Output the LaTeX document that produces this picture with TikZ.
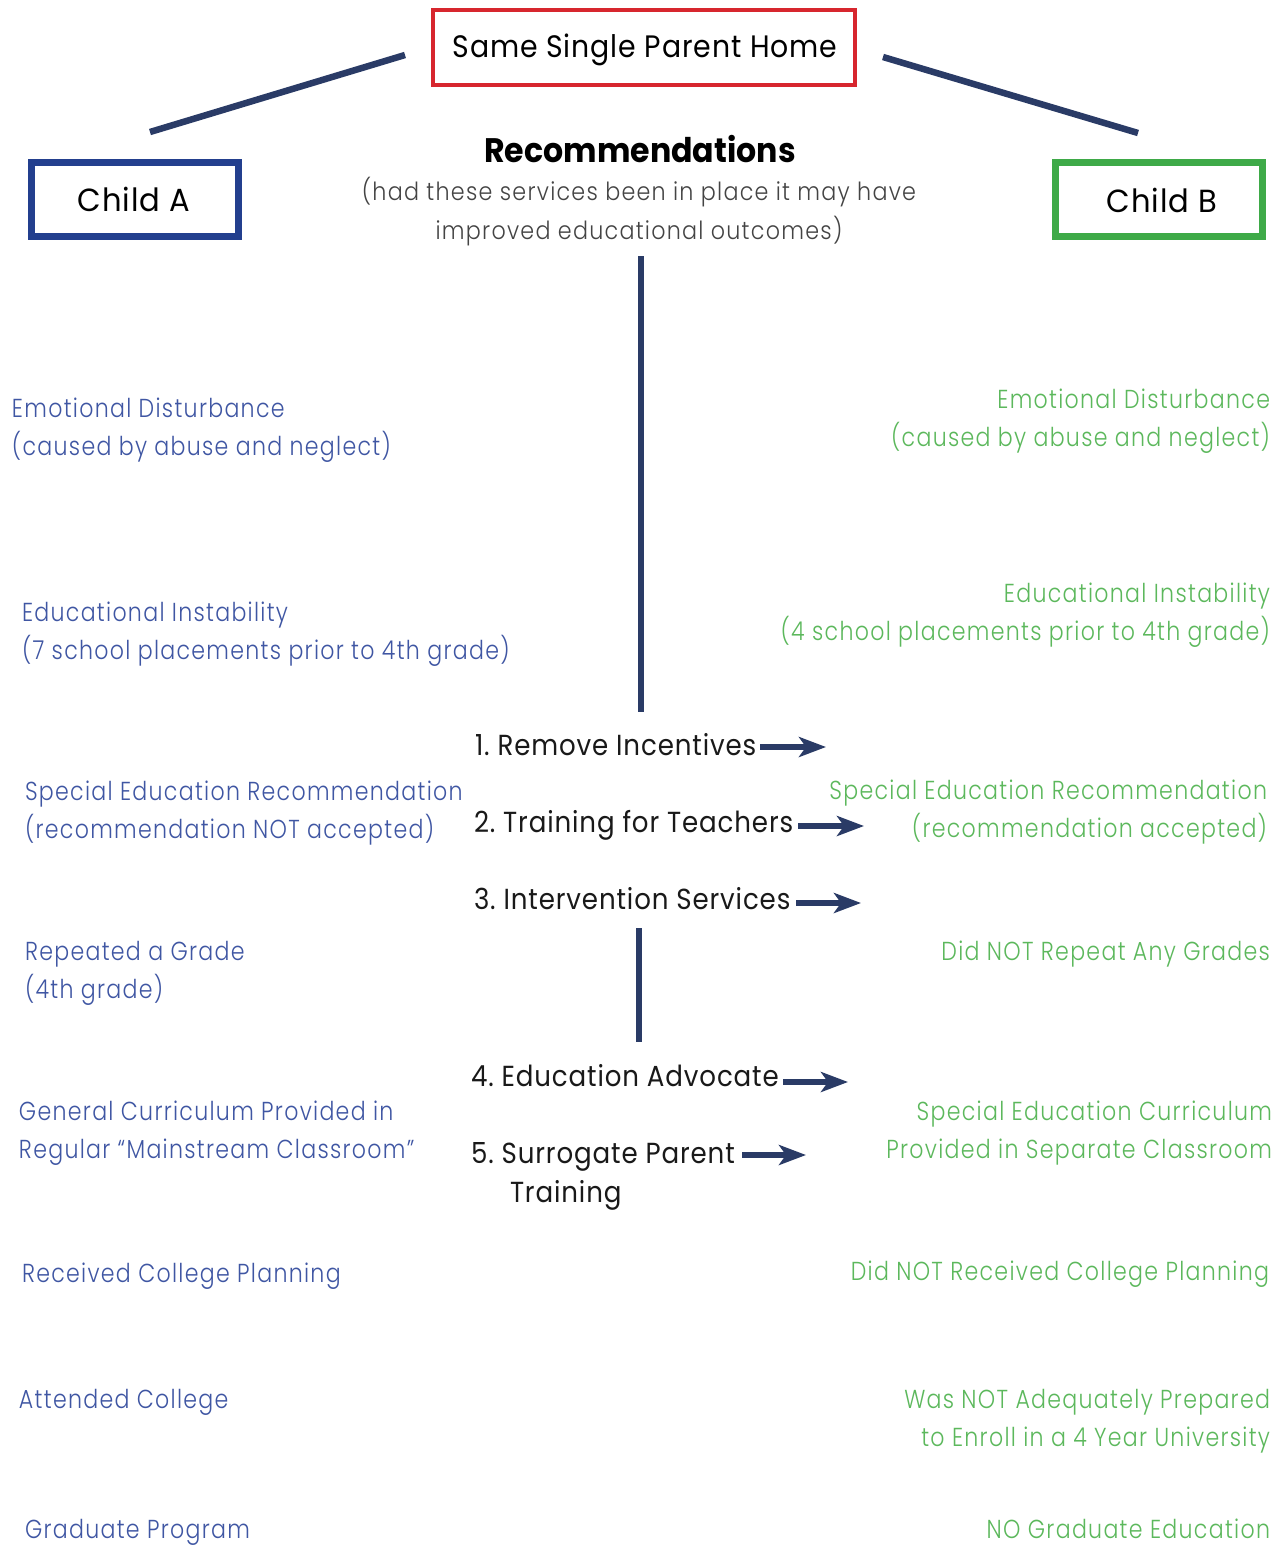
\documentclass[tikz,border=0pt]{standalone}
\usepackage{fontspec}
\setmainfont{Poppins}[UprightFont=* Light, BoldFont=* Bold, FakeStretch=0.85, LetterSpace=5]
\newfontfamily\subfont{Poppins}[UprightFont=* Light, FakeStretch=0.89, LetterSpace=5]
\newfontfamily\itemfont{Poppins}[UprightFont=* Regular, FakeStretch=0.9, LetterSpace=3]
\newfontfamily\homefont{Poppins}[UprightFont=* Regular, FakeStretch=0.914, LetterSpace=3]
\newfontfamily\childfont{Poppins}[UprightFont=* Regular, FakeStretch=0.956, LetterSpace=3]
\newfontfamily\headfont{Poppins}[UprightFont=* Bold, FakeStretch=0.93]
\usetikzlibrary{arrows.meta}
\definecolor{navy}{HTML}{2A3B66}
\definecolor{boxred}{HTML}{D7262E}
\definecolor{boxblue}{HTML}{233F8E}
\definecolor{boxgreen}{HTML}{3EAA48}
\definecolor{txtblue}{HTML}{3F56A3}
\definecolor{txtgreen}{HTML}{5CB85C}
\definecolor{txtgray}{HTML}{444444}
\tikzset{
  every node/.style={inner sep=0pt, outer sep=0pt},
  lefttxt/.style={anchor=base west, text=txtblue, align=left,
    font=\fontsize{26}{38}\selectfont},
  righttxt/.style={anchor=base east, text=txtgreen, align=right,
    font=\fontsize{26}{38}\selectfont},
  itemtxt/.style={anchor=base west, text=black!90, align=left,
    font=\itemfont\fontsize{29}{39}\selectfont},
  link/.style={draw=navy, line width=6.5pt},
  pointer/.style={draw=navy, line width=6pt,
    -{Stealth[length=27pt, width=20pt, inset=7pt]}},
}
\begin{document}
\begin{tikzpicture}[x=1pt, y=-1pt]
\useasboundingbox (0,0) rectangle (1283,1545);
\fill[white] (0,0) rectangle (1283,1545);

% the three framed boxes
\draw[boxred, line width=4pt] (433,10) rectangle (855,85);
\node[anchor=base, font=\homefont\fontsize{31}{34}\selectfont] (home) at (645,57) {Same Single Parent Home};
\draw[boxblue, line width=7pt] (31,162) rectangle (238,236);
\node[anchor=base, font=\childfont\fontsize{32}{34}\selectfont] (childA) at (134,211) {Child A};
\draw[boxgreen, line width=7pt] (1055,162) rectangle (1262,236);
\node[anchor=base, font=\childfont\fontsize{32}{34}\selectfont] (childB) at (1162,212) {Child B};

% branches from the home down toward each child
\coordinate (hl) at (405,55);
\coordinate (al) at (150,132);
\coordinate (hr) at (883,57);
\coordinate (br) at (1138,133);
\draw[link] (hl) -- (al);
\draw[link] (hr) -- (br);

% recommendations heading
\node[anchor=base, font=\headfont\fontsize{34}{36}\selectfont] (rec) at (640,162) {Recommendations};
\node[anchor=base, text=txtgray, font=\subfont\fontsize{25}{39}\selectfont] (sub1) at (639,200) {(had these services been in place it may have};
\node[anchor=base, text=txtgray, font=\subfont\fontsize{25}{39}\selectfont] (sub2) at (639,239) {improved educational outcomes)};

% central spine
\coordinate (s1) at (641,256);
\coordinate (s2) at (641,712);
\draw[link] (s1) -- (s2);
\coordinate (s3) at (639,928);
\coordinate (s4) at (639,1042);
\draw[link] (s3) -- (s4);

% recommended services
\node[itemtxt] (r1) at (475,755) {1.\ Remove Incentives};
\node[itemtxt] (r2) at (474,832) {2.\ Training for Teachers};
\node[itemtxt] (r3) at (474,909) {3.\ Intervention Services};
\node[itemtxt] (r4) at (471,1086) {4.\ Education Advocate};
\node[itemtxt] (r5) at (471,1163) {5.\ Surrogate Parent};
\node[itemtxt] (r5b) at (510,1202) {Training};

\coordinate (t1a) at (760,747);  \coordinate (t1) at (826,747);
\coordinate (t2a) at (798,826);  \coordinate (t2) at (864,826);
\coordinate (t3a) at (796,903);  \coordinate (t3) at (861,903);
\coordinate (t4a) at (783,1082); \coordinate (t4) at (848,1082);
\coordinate (t5a) at (742,1155); \coordinate (t5) at (806,1155);
\draw[pointer] (t1a) -- (t1);
\draw[pointer] (t2a) -- (t2);
\draw[pointer] (t3a) -- (t3);
\draw[pointer] (t4a) -- (t4);
\draw[pointer] (t5a) -- (t5);

% Child A history (each node placed at its last baseline)
\node[lefttxt] (a1) at (12,455) {Emotional Disturbance\\(caused by abuse and neglect)};
\node[lefttxt] (a2) at (22,659) {Educational Instability\\(7 school placements prior to 4th grade)};
\node[lefttxt] (a3) at (25,838) {Special Education Recommendation\\(recommendation NOT accepted)};
\node[lefttxt] (a4) at (25,998) {Repeated a Grade\\(4th grade)};
\node[lefttxt] (a5) at (19,1158) {General Curriculum Provided in\\Regular “Mainstream Classroom”};
\node[lefttxt] (a6) at (22,1282) {Received College Planning};
\node[lefttxt] (a7) at (19,1408) {Attended College};
\node[lefttxt] (a8) at (25,1538) {Graduate Program};

% Child B history
\node[righttxt] (b1) at (1270,446) {Emotional Disturbance\\(caused by abuse and neglect)};
\node[righttxt] (b2) at (1270,640) {Educational Instability\\(4 school placements prior to 4th grade)};
\node[righttxt] (b3) at (1267,837) {Special Education Recommendation\\(recommendation accepted)};
\node[righttxt] (b4) at (1270,960) {Did NOT Repeat Any Grades};
\node[righttxt] (b5) at (1272,1158) {Special Education Curriculum\\Provided in Separate Classroom};
\node[righttxt] (b6) at (1269,1280) {Did NOT Received College Planning};
\node[righttxt] (b7) at (1270,1446) {Was NOT Adequately Prepared\\to Enroll in a 4 Year University};
\node[righttxt] (b8) at (1270,1538) {NO Graduate Education};
\end{tikzpicture}
\end{document}
